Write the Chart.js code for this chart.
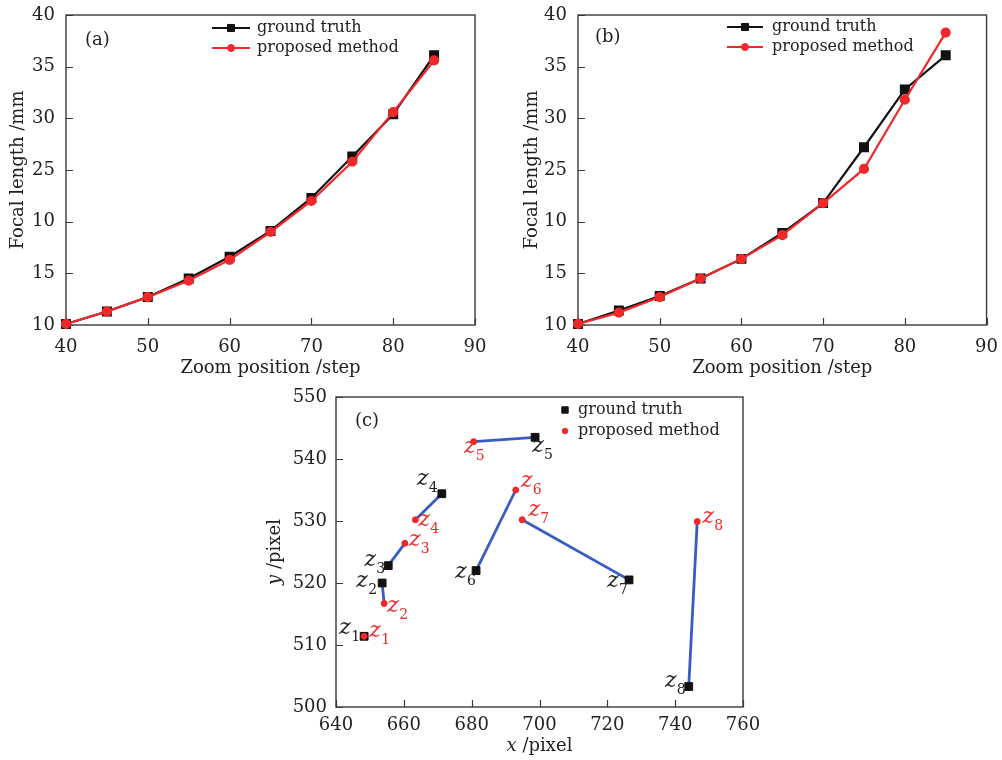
<!DOCTYPE html>
<html>
<head>
<meta charset="utf-8">
<script src="https://cdn.jsdelivr.net/npm/chart.js"></script>
<style>
  body { margin: 0; background: #fff; width: 1002px; height: 760px; position: relative; overflow: hidden; }
  .panel { position: absolute; }
</style>
</head>
<body>
<div class="panel" style="left:0;top:0"><canvas id="chartA" width="495" height="385"></canvas></div>
<div class="panel" style="left:510px;top:0"><canvas id="chartB" width="492" height="385"></canvas></div>
<div class="panel" style="left:250px;top:380px"><canvas id="chartC" width="520" height="380"></canvas></div>
<script>
// zoom position vs focal length, panels (a) and (b)
const zoomSteps = [40, 45, 50, 55, 60, 65, 70, 75, 80, 85];
const truthA = [10.1, 11.3, 12.7, 14.5, 16.6, 19.1, 22.3, 26.3, 30.4, 36.1];
const proposedA = [10.1, 11.3, 12.7, 14.3, 16.3, 19.0, 22.0, 25.8, 30.6, 35.6];
const truthB = [10.1, 11.4, 12.8, 14.5, 16.4, 18.9, 21.8, 27.2, 32.8, 36.1];
const proposedB = [10.1, 11.2, 12.7, 14.5, 16.4, 18.7, 21.8, 25.1, 31.8, 38.3];
// tick labels as printed in the figure
const focalTickLabels = ['10', '15', '10', '25', '30', '35', '40'];

// image points, panel (c)
const pointNames = ['1', '2', '3', '4', '5', '6', '7', '8'];
const truthX = [648.3, 653.6, 655.4, 671.2, 698.7, 681.3, 726.4, 744.0];
const truthY = [511.4, 520.0, 522.8, 534.4, 543.5, 522.0, 520.5, 503.3];
const estX = [648.3, 654.2, 660.3, 663.4, 680.6, 693.0, 694.9, 746.5];
const estY = [511.4, 516.7, 526.4, 530.2, 542.8, 535.0, 530.2, 529.9];

// label offsets (px) from each point
const truthTagOffsets = [[-19, -6], [-20, 0], [-18, -3], [-19, -12], [3, 11], [-15, 4], [-16, 3], [-18, -3]];
const estTagOffsets = [[11, -3], [9, 5], [10, -1], [9, 3], [-4, 8], [11, -7], [12, -7], [11, -2]];

const SERIF = 'DejaVu Serif';
const BLACK = '#111111';
const RED = '#f0282a';
const BLUE = '#3a5cc2';
const AXIS = '#3a3a3a';

Chart.defaults.font.family = SERIF;
Chart.defaults.font.size = 18;
Chart.defaults.color = '#222';

// box round the plot plus inward tick marks
const framePlugin = {
  id: 'frame',
  beforeDatasetsDraw(chart) {
    const { ctx, chartArea: a, scales } = chart;
    ctx.save();
    ctx.strokeStyle = AXIS;
    ctx.lineWidth = 1.4;
    ctx.strokeRect(a.left, a.top, a.right - a.left, a.bottom - a.top);
    ctx.lineWidth = 1.2;
    ctx.beginPath();
    scales.x.ticks.forEach(t => {
      const px = Math.round(scales.x.getPixelForValue(t.value)) + 0.5;
      ctx.moveTo(px, a.bottom);
      ctx.lineTo(px, a.bottom - 7);
    });
    scales.y.ticks.forEach(t => {
      const py = Math.round(scales.y.getPixelForValue(t.value)) + 0.5;
      ctx.moveTo(a.left, py);
      ctx.lineTo(a.left + 7, py);
    });
    ctx.stroke();
    ctx.restore();
  }
};

const panelLabel = {
  id: 'panelLabel',
  afterDraw(chart, args, o) {
    const ctx = chart.ctx;
    ctx.save();
    ctx.font = '18px ' + SERIF;
    ctx.fillStyle = '#222';
    ctx.textBaseline = 'middle';
    ctx.fillText(o.text, o.x, o.y);
    ctx.restore();
  }
};

const sketchLegend = {
  id: 'sketchLegend',
  afterDraw(chart, args, o) {
    const ctx = chart.ctx;
    ctx.save();
    ctx.font = '16px ' + SERIF;
    ctx.textBaseline = 'middle';
    ctx.textAlign = 'left';
    chart.data.datasets.slice(0, 2).forEach((ds, i) => {
      const y = o.y + i * o.rowGap;
      if (o.lineLen) {
        ctx.strokeStyle = ds.borderColor;
        ctx.lineWidth = 2;
        ctx.beginPath();
        ctx.moveTo(o.x - o.lineLen / 2, y);
        ctx.lineTo(o.x + o.lineLen / 2, y);
        ctx.stroke();
      }
      ctx.fillStyle = ds.backgroundColor;
      ctx.strokeStyle = ds.borderColor;
      ctx.lineWidth = 1;
      Chart.helpers.drawPoint(ctx, { pointStyle: ds.pointStyle, radius: o.markerRadius[i], borderWidth: 1 }, o.x, y);
      ctx.fillStyle = '#222';
      ctx.fillText(ds.label, o.textX, y);
    });
    ctx.restore();
  }
};

function fixSize(w, h) {
  return scale => {
    if (w !== null) scale.width = w;
    if (h !== null) scale.height = h;
  };
}

function focalChart(id, truth, proposed, cfg) {
  return new Chart(document.getElementById(id), {
    type: 'scatter',
    data: {
      datasets: [
        {
          label: 'ground truth',
          data: zoomSteps.map((x, i) => ({ x: x, y: truth[i] })),
          showLine: true, borderColor: BLACK, backgroundColor: BLACK, borderWidth: 2.2,
          pointStyle: 'rect', pointRadius: 5.5, pointHoverRadius: 5.5, order: 1, clip: false
        },
        {
          label: 'proposed method',
          data: zoomSteps.map((x, i) => ({ x: x, y: proposed[i] })),
          showLine: true, borderColor: RED, backgroundColor: RED, borderWidth: 2.2,
          pointStyle: 'circle', pointRadius: 4, pointHoverRadius: 4, order: 0, clip: false
        }
      ]
    },
    options: {
      responsive: false,
      animation: false,
      devicePixelRatio: 1,
      layout: { padding: { left: 0, right: cfg.padRight, top: 15, bottom: 0 } },
      plugins: {
        legend: { display: false },
        tooltip: { enabled: false },
        panelLabel: cfg.label,
        sketchLegend: cfg.legend
      },
      scales: {
        x: {
          type: 'linear', min: 40, max: 90,
          ticks: { stepSize: 10, padding: 4, color: '#222' },
          grid: { display: false },
          border: { display: false },
          title: { display: true, text: 'Zoom position /step', font: { size: 18 }, padding: { top: 0, bottom: 6 }, color: '#222' },
          afterFit: fixSize(null, 60)
        },
        y: {
          type: 'linear', min: 10, max: 40,
          ticks: { stepSize: 5, padding: 3, color: '#222', callback: (v, i) => focalTickLabels[i] },
          grid: { display: false },
          border: { display: false },
          title: { display: true, text: 'Focal length /mm', font: { size: 18 }, padding: { top: cfg.titlePad, bottom: 0 }, color: '#222' },
          afterFit: fixSize(cfg.yWidth, null)
        }
      }
    },
    plugins: [framePlugin, panelLabel, sketchLegend]
  });
}

focalChart('chartA', truthA, proposedA, {
  padRight: 20, yWidth: 66, titlePad: 8,
  label: { text: '(a)', x: 85, y: 40 },
  legend: { x: 231, y: 28, rowGap: 20, lineLen: 38, textX: 257, markerRadius: [5, 3.5] }
});

focalChart('chartB', truthB, proposedB, {
  padRight: 12, yWidth: 68, titlePad: 12,
  label: { text: '(b)', x: 85, y: 37 },
  legend: { x: 235, y: 27, rowGap: 20, lineLen: 36, textX: 262, markerRadius: [5, 3.5] }
});

// panel (c) point tags: italic z with subscript index
const pointTags = {
  id: 'pointTags',
  afterDatasetsDraw(chart, args, o) {
    const { ctx, scales } = chart;
    ctx.save();
    o.sets.forEach(set => {
      ctx.fillStyle = set.color;
      set.xs.forEach((xv, i) => {
        const px = scales.x.getPixelForValue(xv) + set.offsets[i][0];
        const py = scales.y.getPixelForValue(set.ys[i]) + set.offsets[i][1];
        ctx.font = 'italic 22px ' + SERIF;
        ctx.textAlign = 'center';
        ctx.textBaseline = 'middle';
        ctx.fillText('z', px, py - 2);
        ctx.font = '14px ' + SERIF;
        ctx.textAlign = 'left';
        ctx.fillText(pointNames[i], px + 6, py + 7);
      });
    });
    ctx.restore();
  }
};

const mixedTitles = {
  id: 'mixedTitles',
  afterDraw(chart, args, o) {
    const ctx = chart.ctx;
    const a = chart.chartArea;
    ctx.save();
    ctx.fillStyle = '#222';
    ctx.textBaseline = 'middle';
    o.items.forEach(t => {
      ctx.save();
      const cx = t.axis === 'x' ? (a.left + a.right) / 2 : t.pos;
      const cy = t.axis === 'x' ? t.pos : (a.top + a.bottom) / 2;
      ctx.translate(cx, cy);
      if (t.axis === 'y') ctx.rotate(-Math.PI / 2);
      ctx.font = 'italic 18px ' + SERIF;
      const w1 = ctx.measureText(t.sym).width;
      ctx.font = '18px ' + SERIF;
      const w2 = ctx.measureText(t.rest).width;
      let x = -(w1 + w2) / 2;
      ctx.textAlign = 'left';
      ctx.font = 'italic 18px ' + SERIF;
      ctx.fillText(t.sym, x, 0);
      ctx.font = '18px ' + SERIF;
      ctx.fillText(t.rest, x + w1, 0);
      ctx.restore();
    });
    ctx.restore();
  }
};

const pairSets = pointNames.map((n, i) => ({
  label: 'pair ' + n,
  data: [{ x: truthX[i], y: truthY[i] }, { x: estX[i], y: estY[i] }],
  showLine: true, borderColor: BLUE, borderWidth: 2.8, pointRadius: 0, order: 2, clip: false
}));

new Chart(document.getElementById('chartC'), {
  type: 'scatter',
  data: {
    datasets: [
      {
        label: 'ground truth',
        data: truthX.map((x, i) => ({ x: x, y: truthY[i] })),
        borderColor: BLACK, backgroundColor: BLACK, pointStyle: 'rect',
        pointRadius: 5.5, pointHoverRadius: 5.5, order: 1, clip: false
      },
      {
        label: 'proposed method',
        data: estX.map((x, i) => ({ x: x, y: estY[i] })),
        borderColor: RED, backgroundColor: RED, pointStyle: 'circle',
        pointRadius: 3, pointHoverRadius: 3, order: 0, clip: false
      }
    ].concat(pairSets)
  },
  options: {
    responsive: false,
    animation: false,
    devicePixelRatio: 1,
    layout: { padding: { left: 0, right: 27, top: 17, bottom: 0 } },
    plugins: {
      legend: { display: false },
      tooltip: { enabled: false },
      panelLabel: { text: '(c)', x: 105, y: 41 },
      sketchLegend: { x: 315, y: 30, rowGap: 21, lineLen: 0, textX: 328, markerRadius: [4.5, 2.8] },
      pointTags: {
        sets: [
          { xs: truthX, ys: truthY, offsets: truthTagOffsets, color: '#222' },
          { xs: estX, ys: estY, offsets: estTagOffsets, color: RED }
        ]
      },
      mixedTitles: {
        items: [
          { axis: 'x', pos: 366, sym: 'x', rest: ' /pixel' },
          { axis: 'y', pos: 25, sym: 'y', rest: ' /pixel' }
        ]
      }
    },
    scales: {
      x: {
        type: 'linear', min: 640, max: 760,
        ticks: { stepSize: 20, padding: 0, color: '#222' },
        grid: { display: false },
        border: { display: false },
        afterFit: fixSize(null, 53)
      },
      y: {
        type: 'linear', min: 500, max: 550,
        ticks: { stepSize: 10, padding: 1, color: '#222' },
        grid: { display: false },
        border: { display: false },
        afterFit: fixSize(86, null)
      }
    }
  },
  plugins: [framePlugin, panelLabel, sketchLegend, pointTags, mixedTitles]
});
</script>
</body>
</html>
